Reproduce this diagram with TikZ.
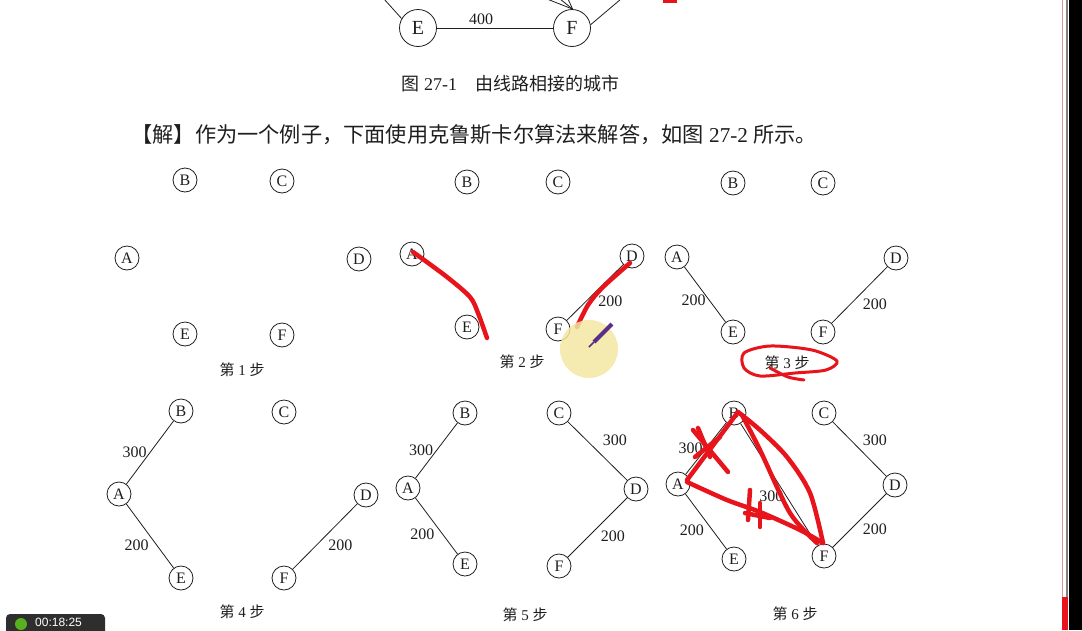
\documentclass[tikz,border=0pt]{standalone}
\usepackage{fontspec}
\setmainfont{Liberation Serif}
\newfontfamily\cjk{Noto Sans CJK SC}
\newfontfamily\uifont{Liberation Sans}
\usetikzlibrary{calc}
\definecolor{Ink}    {HTML}{1E1E1E}
\definecolor{Pen}    {HTML}{E8141B}
\definecolor{Glow}   {HTML}{F3E6A2}
\definecolor{Pencil} {HTML}{5A2D86}
\definecolor{Timer}  {HTML}{2E2E2E}
\definecolor{Rec}    {HTML}{56B01F}
\definecolor{Edge}   {HTML}{D49A9A}

\begin{document}
\begin{tikzpicture}[x=1pt, y=-1pt,
  city/.style={draw=Ink, circle, line width=0.8pt, minimum size=24pt,
               inner sep=0pt, font=\fontsize{16}{16}\selectfont, text=Ink},
  bigcity/.style={city, minimum size=37pt, font=\fontsize{20}{20}\selectfont},
  wt/.style={font=\fontsize{16}{16}\selectfont, text=Ink, inner sep=3pt},
  road/.style={draw=Ink, line width=0.8pt},
  steplbl/.style={font=\fontsize{15}{15}\selectfont, text=Ink},
  pen/.style={draw=Pen, line width=4.5pt, line cap=round, line join=round}]
  \useasboundingbox (0,0) rectangle (1082,630);
  \clip (0,0) rectangle (1082,630);

  % Top of figure 27-1
  \node[bigcity] (Etop) at (418,28) {E};
  \node[bigcity] (Ftop) at (572,28) {F};
  \draw[road] (Etop) -- node[wt, pos=0.38, above] {400} (Ftop);
  \coordinate (e0) at (384,-1);
  \draw[road] (e0) -- (Etop.150);
  \foreach \c/\cx in {f1/547, f2/560, f3/568} {
    \coordinate (\c) at (\cx,-1);
    \draw[road] (\c) -- (Ftop.88);
  }
  \coordinate (f4) at (621,-1);
  \draw[road] (f4) -- (Ftop.10);
  \node[anchor=west, font=\fontsize{18}{18}\selectfont, text=Ink] (fig)
        at (398,84) {{\cjk 图} 27-1\quad{\cjk 由线路相接的城市}};

  % Text line
  \node[anchor=west, font=\fontsize{21.2}{22}\selectfont, text=Ink] (sol)
        at (128,135) {{\cjk 【解】作为一个例子，下面使用克鲁斯卡尔算法来解答，如图} 27-2 {\cjk 所示。}};

  % Step 1
  \foreach \n/\px/\py in {A/127/258, B/185/180, C/282/181, D/359/259, E/185/334, F/282/335}
    \node[city] (\n1) at (\px,\py) {\n};
  \node[steplbl] (s1) at (242,370) {{\cjk 第} 1 {\cjk 步}};

  % Step 2
  \foreach \n/\px/\py in {A/412/254, B/467/182, C/558/182, D/632/256, E/467/327, F/558/329}
    \node[city] (\n2) at (\px,\py) {\n};
  \draw[road] (D2) -- node[wt, below right] {200} (F2);
  \node[steplbl] (s2) at (522,362) {{\cjk 第} 2 {\cjk 步}};

  % Step 3
  \foreach \n/\px/\py in {A/677/257, B/733/183, C/823/183, D/896/258, E/733/332, F/823/332}
    \node[city] (\n3) at (\px,\py) {\n};
  \draw[road] (A3) -- node[wt, pos=0.6, left] {200} (E3);
  \draw[road] (D3) -- node[wt, below right] {200} (F3);
  \node[steplbl] (s3) at (787,363) {{\cjk 第} 3 {\cjk 步}};

  % Step 4
  \foreach \n/\px/\py in {A/119/494, B/181/411, C/284/412, D/366/495, E/181/578, F/284/578}
    \node[city] (\n4) at (\px,\py) {\n};
  \draw[road] (A4) -- node[wt, left] {300} (B4);
  \draw[road] (A4) -- node[wt, pos=0.65, left=5pt] {200} (E4);
  \draw[road] (D4) -- node[wt, below right] {200} (F4);
  \node[steplbl] (s4) at (242,612) {{\cjk 第} 4 {\cjk 步}};

  % Step 5
  \foreach \n/\px/\py in {A/408/488, B/465/413, C/559/413, D/636/489, E/465/564, F/559/566}
    \node[city] (\n5) at (\px,\py) {\n};
  \draw[road] (A5) -- node[wt, left] {300} (B5);
  \draw[road] (A5) -- node[wt, pos=0.65, left=5pt] {200} (E5);
  \draw[road] (C5) -- node[wt, above right=2pt] {300} (D5);
  \draw[road] (D5) -- node[wt, below right] {200} (F5);
  \node[steplbl] (s5) at (525,615) {{\cjk 第} 5 {\cjk 步}};

  % Step 6
  \foreach \n/\px/\py in {A/678/484, B/734/413, C/824/413, D/895/485, E/734/559, F/824/556}
    \node[city] (\n6) at (\px,\py) {\n};
  \draw[road] (A6) -- node[wt, left] {300} (B6);
  \draw[road] (A6) -- node[wt, pos=0.65, left=5pt] {200} (E6);
  \draw[road] (B6) -- node[wt, pos=0.6, left] {300} (F6);
  \draw[road] (C6) -- node[wt, above right] {300} (D6);
  \draw[road] (D6) -- node[wt, below right] {200} (F6);
  \node[steplbl] (s6) at (795,614) {{\cjk 第} 6 {\cjk 步}};

  % Red pen marks
  \fill[Pen] (663,0) rectangle (677,3);
  \draw[pen] plot[smooth] coordinates {(413,252) (447,277) (470,297) (478,313) (487,338)};
  \draw[pen] plot[smooth] coordinates {(630,263) (603,287) (588,305) (577,327)};
  \draw[pen, line width=3pt] plot[smooth cycle] coordinates
        {(744,353) (770,346) (812,350) (837,361) (826,370) (795,373) (760,376) (744,368)};
  \draw[pen, line width=3pt] plot[smooth] coordinates {(770,368) (788,377) (804,380)};
  \draw[pen] (687,480) -- (738,412);
  \draw[pen] plot[smooth] coordinates {(738,412) (760,430) (787,457) (810,493) (823,543)};
  \draw[pen] plot[smooth] coordinates {(742,415) (760,450) (790,513) (817,543)};
  \draw[pen] plot[smooth] coordinates {(687,482) (727,500) (760,512) (800,530) (823,543)};
  \draw[pen] (693,430) -- (728,472);
  \draw[pen] (698,428) -- (710,457);
  \draw[pen] (695,457) -- (720,437);
  \draw[pen] (750,490) -- (748,520);
  \draw[pen] (760,503) -- (760,527);
  \draw[pen] (745,513) -- (770,518);

  % Cursor
  \fill[Glow, opacity=0.85] (589,349) circle (29);
  \draw[Pencil, line width=4pt] (594,342) -- (612,324);
  \draw[Pencil, line width=1.5pt] (594,342) -- (589,347);

  % Screen edges
  \fill[black] (1069,0) rectangle (1082,630);
  \draw[Edge, line width=1pt] (1062.5,0) -- (1062.5,630);
  \draw[gray, line width=1.2pt] (1067,0) -- (1067,630);
  \fill[Pen] (1062,597) rectangle (1068,630);
  \fill[Timer, rounded corners=4pt] (6,614) rectangle (105,640);
  \fill[Rec] (21,624) circle (6);
  \node[font=\uifont\fontsize{12}{12}\selectfont, text=white, anchor=west, inner sep=1pt] (clock)
        at (34,622.5) {00:18:25};
\end{tikzpicture}
\end{document}
